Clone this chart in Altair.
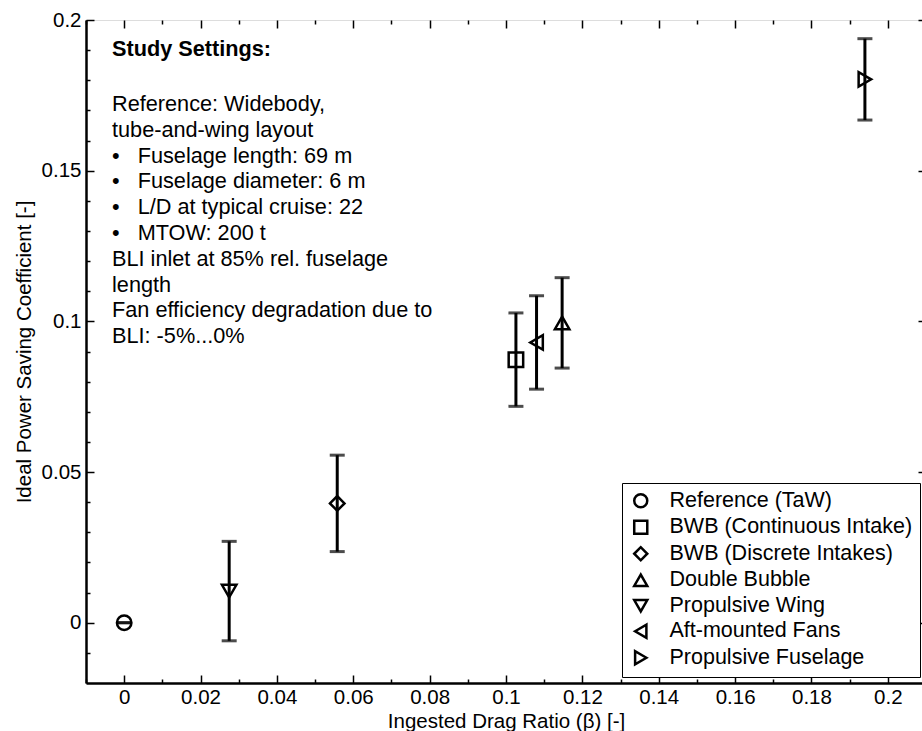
import altair as alt
import pandas as pd

# Aircraft configurations studied
configs = [
    "Reference (TaW)",
    "BWB (Continuous Intake)",
    "BWB (Discrete Intakes)",
    "Double Bubble",
    "Propulsive Wing",
    "Aft-mounted Fans",
    "Propulsive Fuselage",
]
marker_shapes = ["circle", "square", "diamond", "triangle-up",
                 "triangle-down", "triangle-left", "triangle-right"]

# Ingested drag ratio beta [-]
beta = [0.0, 0.1026, 0.0558, 0.1147, 0.0275, 0.108, 0.194]
# Ideal power saving coefficient [-] and its uncertainty (half range)
psc = [0.0, 0.0873, 0.0396, 0.0995, 0.0105, 0.093, 0.1803]
psc_err = [0.0, 0.0155, 0.016, 0.015, 0.0165, 0.0155, 0.0135]

# Axis ticks
x_major = [0, 0.02, 0.04, 0.06, 0.08, 0.1, 0.12, 0.14, 0.16, 0.18, 0.2]
x_minor = [-0.01, 0.01, 0.03, 0.05, 0.07, 0.09, 0.11, 0.13, 0.15, 0.17, 0.19, 0.21]
y_major = [0, 0.05, 0.1, 0.15, 0.2]
y_minor = [-0.01, 0.01, 0.02, 0.03, 0.04, 0.06, 0.07, 0.08, 0.09,
           0.11, 0.12, 0.13, 0.14, 0.16, 0.17, 0.18, 0.19]

# Study settings box
heading = "Study Settings:"
settings_lines = [
    "Reference: Widebody,",
    "tube-and-wing layout",
    "•\u00a0\u00a0\u00a0Fuselage length: 69 m",
    "•\u00a0\u00a0\u00a0Fuselage diameter: 6 m",
    "•\u00a0\u00a0\u00a0L/D at typical cruise: 22",
    "•\u00a0\u00a0\u00a0MTOW: 200 t",
    "BLI inlet at 85% rel. fuselage",
    "length",
    "Fan efficiency degradation due to",
    "BLI: -5%...0%",
]

df = pd.DataFrame({"config": configs, "beta": beta, "psc": psc, "err": psc_err})
df["lo"] = df["psc"] - df["err"]
df["hi"] = df["psc"] + df["err"]

W, H = 840, 663
FONT = "Liberation Sans"
FS = 20.5
NOTE_FS = 21.7

xs = alt.Scale(domain=[-0.01, 0.21], nice=False, zero=False)
ys = alt.Scale(domain=[-0.02, 0.2], nice=False, zero=False)


def tick_axis(orient, values, size, offset):
    # axis that only draws tick marks (placed on an edge, pointing inward)
    return alt.Axis(orient=orient, offset=offset, values=values, tickSize=size,
                    tickWidth=1.5, tickColor="black", labels=False, domain=False,
                    grid=False, title=None)


base = alt.Chart(df)

# error bar stems, carrying the labelled axes
stems = base.mark_rule(color="black", strokeWidth=3).encode(
    x=alt.X("beta:Q", scale=xs, axis=alt.Axis(
        orient="bottom", values=x_major, format="~g", ticks=False, tickSize=0,
        labelPadding=4, labelFontSize=FS, labelFont=FONT, labelColor="black",
        labelOverlap=False, labelFlush=False, domainColor="black", domainWidth=2.5,
        grid=False, title="Ingested Drag Ratio (β) [-]", titleFont=FONT,
        titleFontSize=FS, titleFontWeight="normal", titleColor="black",
        titleBaseline="alphabetic", titleY=44)),
    y=alt.Y("lo:Q", scale=ys, axis=alt.Axis(
        orient="left", values=y_major, format="~g", ticks=False, tickSize=0,
        labelPadding=5, labelFontSize=FS, labelFont=FONT, labelColor="black",
        labelOverlap=False, labelFlush=False, domainColor="black", domainWidth=2.5,
        grid=False, title="Ideal Power Saving Coefficient [-]", titleFont=FONT,
        titleFontSize=FS, titleFontWeight="normal", titleColor="black", titlePadding=7)),
    y2="hi:Q",
)

# upper caps, plus inward major ticks on bottom and left edges
caps_hi = base.mark_tick(color="black", orient="horizontal", size=15, thickness=3).encode(
    x=alt.X("beta:Q", scale=xs, axis=tick_axis("top", x_major, 8, -H)),
    y=alt.Y("hi:Q", scale=ys, axis=tick_axis("right", y_major, 8, -W)),
)

# lower caps, plus inward minor ticks on bottom and left edges
caps_lo = base.mark_tick(color="black", orient="horizontal", size=15, thickness=3).encode(
    x=alt.X("beta:Q", scale=xs, axis=tick_axis("top", x_minor, 4, -H)),
    y=alt.Y("lo:Q", scale=ys, axis=tick_axis("right", y_minor, 4, -W)),
)

# configuration markers, plus inward major ticks on top and right edges
markers = base.mark_point(filled=False, size=210, strokeWidth=2.5, color="black",
                          opacity=1).encode(
    x=alt.X("beta:Q", scale=xs, axis=tick_axis("bottom", x_major, 8, -H)),
    y=alt.Y("psc:Q", scale=ys, axis=tick_axis("left", y_major, 8, -W)),
    shape=alt.Shape("config:N", scale=alt.Scale(domain=configs, range=marker_shapes),
                    sort=configs, legend=alt.Legend(
                        orient="bottom-right", offset=6, title=None,
                        fillColor="white", strokeColor="black", padding=7,
                        symbolOffset=1, labelOffset=18, rowPadding=2.5,
                        symbolSize=170, symbolStrokeWidth=2.5,
                        symbolStrokeColor="black", labelFont=FONT,
                        labelFontSize=21.5, labelColor="black", labelLimit=400)),
)

# minor ticks on top and right edges
minor_tr = base.mark_point(opacity=0).encode(
    x=alt.X("beta:Q", scale=xs, axis=tick_axis("bottom", x_minor, 4, -H)),
    y=alt.Y("psc:Q", scale=ys, axis=tick_axis("left", y_minor, 4, -W)),
)

note_df = pd.DataFrame({"k": [0]})
note_head = alt.Chart(note_df).mark_text(
    text=heading, font=FONT, fontSize=NOTE_FS, fontWeight="bold", align="left",
    baseline="alphabetic", color="black",
).encode(x=alt.value(26), y=alt.value(36))

note_body = alt.Chart(note_df).mark_text(
    text="\n".join(settings_lines), lineBreak="\n", lineHeight=25.8, font=FONT,
    fontSize=NOTE_FS, align="left", baseline="alphabetic", color="black",
).encode(x=alt.value(26), y=alt.value(91))

chart = (
    alt.layer(stems, caps_hi, caps_lo, markers, minor_tr, note_head, note_body)
    .resolve_axis(x="independent", y="independent")
    .properties(width=W, height=H, autosize=alt.AutoSizeParams(type="none"),
                padding={"left": 86, "top": 20, "right": -4, "bottom": 48})
    .configure_view(stroke="black", strokeWidth=2)
    .configure_legend(strokeWidth=1.5)
    .configure(background="white")
)

chart.save("out.html", embed_options={"renderer": "svg", "actions": False})
